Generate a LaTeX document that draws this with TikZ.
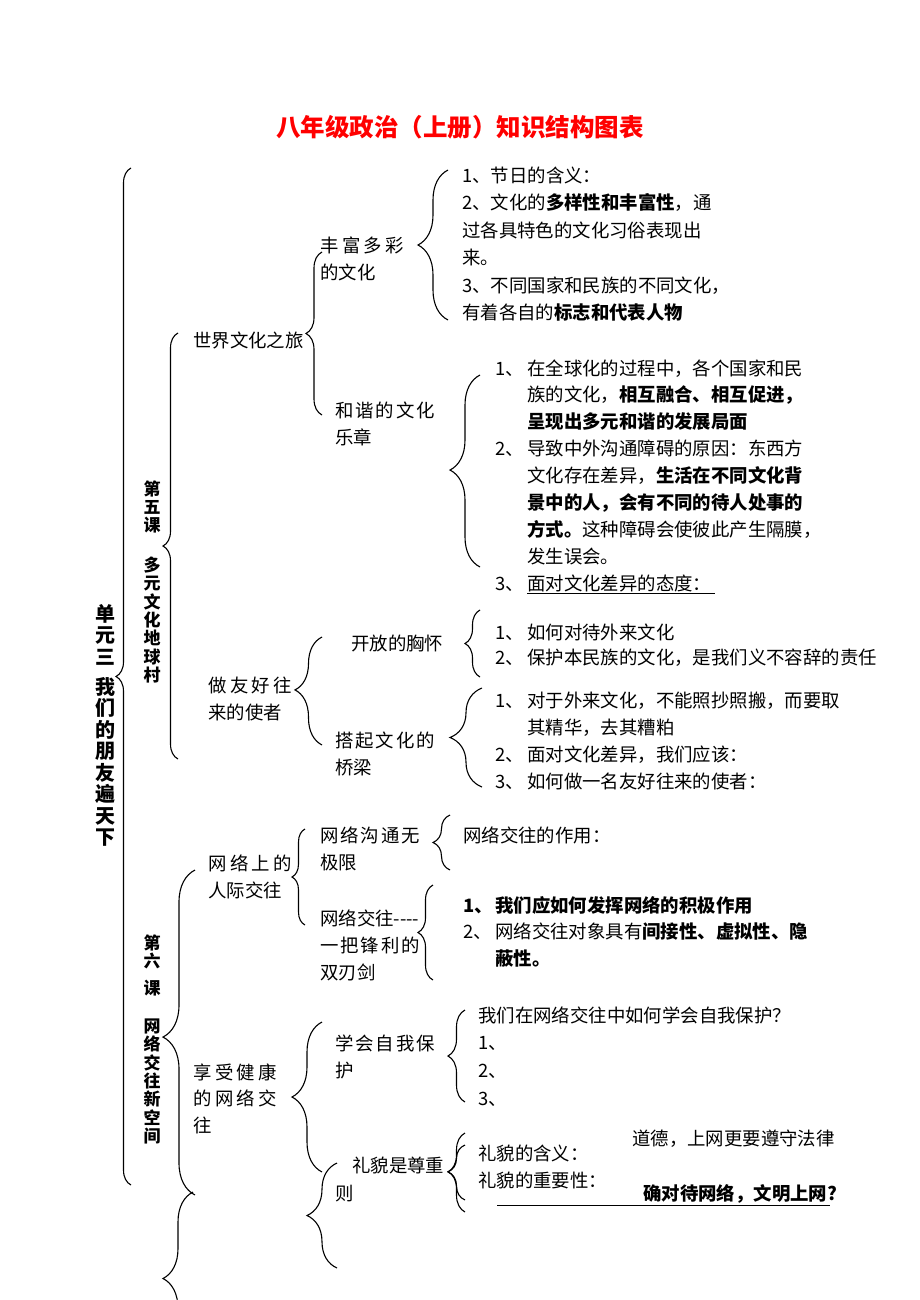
\documentclass[tikz,border=0pt]{standalone}
\usepackage{fontspec}
\setmainfont{Noto Sans CJK SC}
\usetikzlibrary{decorations.pathreplacing}

\tikzset{
  brc/.style={decorate,decoration={brace,amplitude=#1},line width=1.1pt},
  txt/.style={anchor=base west,inner sep=0pt,align=left,font=\fontsize{18.4}{27.3}\selectfont},
  vlab/.style={anchor=base,inner sep=0pt,align=center,font=\fontsize{17}{18.4}\selectfont\bfseries},
}
\newcommand{\lnum}[1]{\makebox[32pt][l]{#1}}

\begin{document}
\begin{tikzpicture}[x=1pt,y=-1pt]
      \clip (0,0) rectangle (920,1300);
      \fill[white] (0,0) rectangle (920,1300);
      % title
      \node[anchor=base,inner sep=0pt,text=red,font=\fontsize{24.5}{24.5}\selectfont\bfseries] (title) at (460,137) {八年级政治（上册）知识结构图表};
      % braces: x / top / bottom / amplitude / aspect
      \foreach \x/\t/\b/\a/\p in {131/168/1185/15/0.5, 178/333/759/15/0.5, 195/870/1195/32/0.486, 193/1192/1365/30/0.5,
        322/252/415/16/0.5, 448/170/320/30/0.5, 480/375/567/30/0.505, 322/637/745/27/0.51,
        480/610/677/15/0.5, 482/688/787/32/0.5, 305/829/925/13/0.5, 450/815/870/17/0.5,
        433/885/980/15/0.5, 322/1022/1172/30/0.5, 337/1163/1268/30/0.5, 465/1010/1102/17/0.5,
        465/1133/1200/17/0.42, 465/1145/1212/17/0.6}
      \draw[brc=\a pt,decoration={aspect=\p}] (\x,\b) -- (\x,\t);
      % unit and lessons (placed by last line)
      \node[vlab,font=\fontsize{20}{21.5}\selectfont\bfseries] (unit) at (105,844.5) {单\\元\\三\\[8.5pt]我\\们\\的\\朋\\友\\遍\\天\\下};
      \node[vlab] (les5) at (152,681.6) {第\\五\\课\\[21pt]多\\元\\文\\化\\地\\球\\村};
      \node[vlab] (les6) at (152,1142.6) {第\\六\\[8.5pt]课\\[19.5pt]网\\络\\交\\往\\新\\空\\间};
      % topics
      \node[txt] (trip) at (193,347) {世界文化之旅};
      \node[txt,font=\fontsize{18.4}{27}\selectfont] (rich) at (320,279) {\makebox[84pt]{丰\hfill 富\hfill 多\hfill 彩}\\的文化};
      \node[txt,font=\fontsize{18.4}{27}\selectfont] (harm) at (335,444) {\makebox[100pt]{和\hfill 谐\hfill 的\hfill 文\hfill 化}\\乐章};
      \node[txt,font=\fontsize{18.4}{27}\selectfont] (envoy) at (208,719) {\makebox[84pt]{做\hfill 友\hfill 好\hfill 往}\\来的使者};
      \node[txt] (open) at (351,650) {开放的胸怀};
      \node[txt,font=\fontsize{18.4}{27}\selectfont] (bridge) at (335,774) {\makebox[100pt]{搭\hfill 起\hfill 文\hfill 化\hfill 的}\\桥梁};
      \node[txt,font=\fontsize{18.4}{27}\selectfont] (netrel) at (208,897) {\makebox[84pt]{网\hfill 络\hfill 上\hfill 的}\\人际交往};
      \node[txt,font=\fontsize{18.4}{27}\selectfont] (nolimit) at (320,869) {\makebox[100pt]{网\hfill 络\hfill 沟\hfill 通\hfill 无}\\极限};
      \node[txt,font=\fontsize{18.4}{27}\selectfont] (sword) at (320,979) {网络交往-{}-{}-{}-\\\makebox[100pt]{一\hfill 把\hfill 锋\hfill 利\hfill 的}\\双刃剑};
      \node[txt,font=\fontsize{18.4}{26.5}\selectfont] (health) at (193,1132) {\makebox[84pt]{享\hfill 受\hfill 健\hfill 康}\\\makebox[84pt]{的\hfill 网\hfill 络\hfill 交}\\往};
      \node[txt,font=\fontsize{18.4}{27}\selectfont] (selfp) at (335,1077) {\makebox[100pt]{学\hfill 会\hfill 自\hfill 我\hfill 保}\\护};
      \node[txt,font=\fontsize{18.4}{28}\selectfont] (polite) at (335,1200) {\hspace*{17pt}礼貌是尊重\\则};
      % points
      \node[txt,font=\fontsize{18.4}{27.5}\selectfont] (richpts) at (462,319.5) {1、节日的含义：\\2、文化的\textbf{多样性和丰富性}，通\\过各具特色的文化习俗表现出\\来。\\3、不同国家和民族的不同文化，\\有着各自的\textbf{标志和代表人物}};
      \node[txt,font=\fontsize{18.4}{26.9}\selectfont] (harmpts) at (495,590.2) {\lnum{1、}在全球化的过程中，各个国家和民\\\hspace*{32pt}族的文化，\textbf{相互融合、相互促进，}\\\hspace*{32pt}\textbf{呈现出多元和谐的发展局面}\\\lnum{2、}导致中外沟通障碍的原因：东西方\\\hspace*{32pt}文化存在差异，\textbf{生活在不同文化背}\\\hspace*{32pt}\textbf{景中的人，会有不同的待人处事的}\\\hspace*{32pt}\textbf{方式。}这种障碍会使彼此产生隔膜，\\\hspace*{32pt}发生误会。\\\lnum{3、}\underline{面对文化差异的态度：\hspace*{4pt}}};
      \node[txt,font=\fontsize{18.4}{25}\selectfont] (openpts) at (495,664) {\lnum{1、}如何对待外来文化\\\lnum{2、}保护本民族的文化，是我们义不容辞的责任};
      \node[txt] (bridgepts) at (495,788.9) {\lnum{1、}对于外来文化，不能照抄照搬，而要取\\\hspace*{32pt}其精华，去其糟粕\\\lnum{2、}面对文化差异，我们应该：\\\lnum{3、}如何做一名友好往来的使者：};
      \node[txt] (limitpts) at (463,842) {网络交往的作用：};
      \node[txt,font=\fontsize{18.4}{26.5}\selectfont] (swordpts) at (463,965) {\textbf{\lnum{1、}我们应如何发挥网络的积极作用}\\\lnum{2、}网络交往对象具有\textbf{间接性、虚拟性、隐}\\\hspace*{32pt}\textbf{蔽性。}};
      \node[txt,font=\fontsize{18.4}{27.7}\selectfont] (selfpts) at (478,1105.1) {我们在网络交往中如何学会自我保护？\\1、\\2、\\3、};
      \node[txt] (lawpt) at (632,1145) {道德，上网更要遵守法律};
      \node[txt] (meanpt) at (478,1160) {礼貌的含义：};
      \node[txt] (whypt) at (478,1187) {礼貌的重要性：};
      \node[txt] (civpt) at (643,1200) {\textbf{确对待网络，文明上网?}};
      \draw[line width=0.8pt] (497,1205) -- (830,1205);
\end{tikzpicture}
\end{document}
